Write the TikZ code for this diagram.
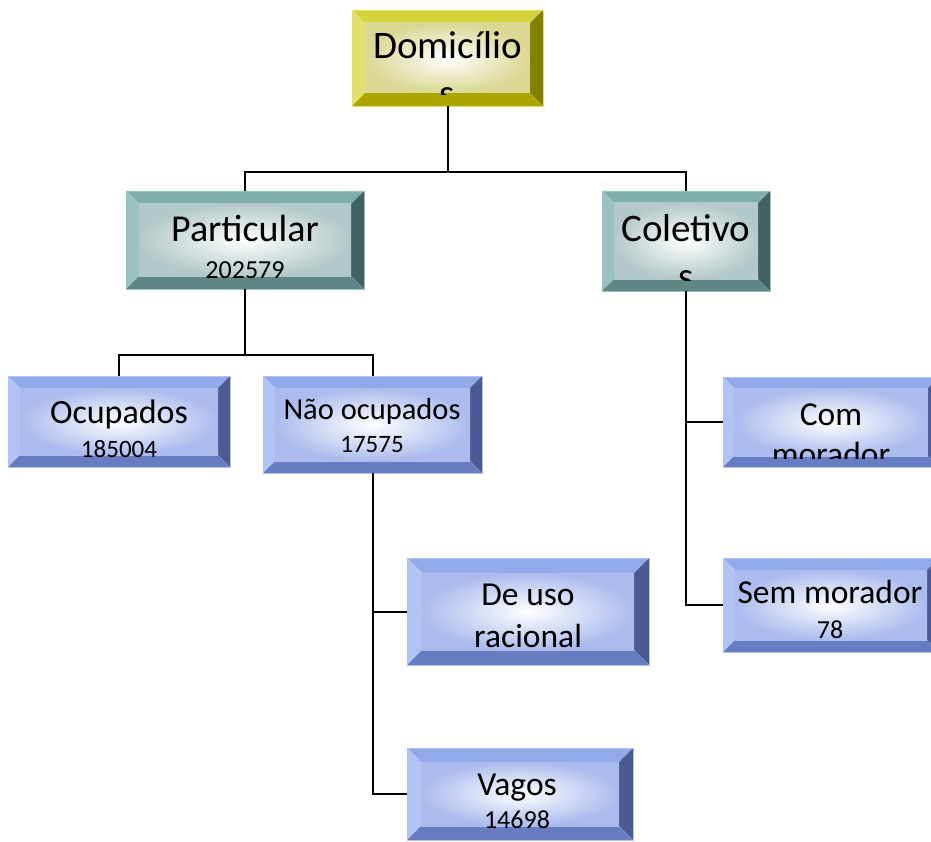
\documentclass[tikz,border=0pt]{standalone}
\usepackage{fontspec}
\setmainfont{Carlito}
\definecolor{yT}{RGB}{214,210,60}
\definecolor{yL}{RGB}{228,224,110}
\definecolor{yR}{RGB}{130,128,0}
\definecolor{yB}{RGB}{170,165,0}
\definecolor{yI}{RGB}{210,205,120}
\definecolor{tT}{RGB}{128,174,171}
\definecolor{tL}{RGB}{154,194,191}
\definecolor{tR}{RGB}{64,98,98}
\definecolor{tB}{RGB}{94,134,133}
\definecolor{tI}{RGB}{160,188,187}
\definecolor{bT}{RGB}{146,170,234}
\definecolor{bL}{RGB}{178,194,243}
\definecolor{bR}{RGB}{74,90,146}
\definecolor{bB}{RGB}{104,124,194}
\definecolor{bI}{RGB}{150,170,232}
\tikzset{
  txt/.style={anchor=base, inner sep=0pt, text=black},
  big/.style={font=\fontsize{39}{47}\selectfont},
  mid/.style={font=\fontsize{33.5}{41}\selectfont},
  num/.style={font=\fontsize{26}{31}\selectfont},
  link/.style={line width=2pt, black},
  boxnode/.style={inner sep=0pt, outer sep=0pt, draw=none}
}
% name, x1, y1, x2, y2, bevel, palette
\newcommand{\bevbox}[7]{%
  \fill[#7T] (#2,#3) -- (#4,#3) -- (#4-#6,#3+#6) -- (#2+#6,#3+#6) -- cycle;
  \fill[#7L] (#2,#3) -- (#2+#6,#3+#6) -- (#2+#6,#5-#6) -- (#2,#5) -- cycle;
  \fill[#7R] (#4,#3) -- (#4,#5) -- (#4-#6,#5-#6) -- (#4-#6,#3+#6) -- cycle;
  \fill[#7B] (#2,#5) -- (#4,#5) -- (#4-#6,#5-#6) -- (#2+#6,#5-#6) -- cycle;
  \shade[inner color=white, outer color=#7I!80] (#2+#6,#3+#6) rectangle (#4-#6,#5-#6);
  \draw[#7L, line width=0.8pt] (#2,#3) rectangle (#4,#5);
  \node[boxnode, minimum width={(#4-#2)*1pt}, minimum height={(#5-#3)*1pt}] (#1) at ({(#2+#4)/2},{(#3+#5)/2}) {};
}
\begin{document}
\begin{tikzpicture}[x=1pt,y=-1pt]
\useasboundingbox (0,0) rectangle (931,842);
\fill[white] (0,0) rectangle (931,842);
\clip (0,0) rectangle (931,842);

% boxes
\bevbox{dom}{352}{10}{543}{106}{13}{y}
\bevbox{part}{126}{191}{364}{289}{13}{t}
\bevbox{col}{602}{191}{770}{291}{12}{t}
\bevbox{ocu}{8}{376}{230}{467}{12}{b}
\bevbox{nao}{263}{376}{482}{473}{12}{b}
\bevbox{com}{723}{377}{939}{467}{11}{b}
\bevbox{uso}{407}{558}{649}{665}{15}{b}
\bevbox{sem}{723}{558}{939}{652}{12}{b}
\bevbox{vag}{407}{748}{633}{840}{14}{b}

% texts
\node[txt, big] (domt) at (447.5,59) {Domicílio};
\begin{scope}
  \clip (352,10) rectangle (543,95);
  \node[txt, big] (doms) at (447.5,107) {s};
\end{scope}
\node[txt, font=\fontsize{38}{46}\selectfont] (partt) at (245,242) {Particular};
\node[txt, num] (partn) at (245,278) {202579};
\node[txt, big] (colt) at (686,242) {Coletivo};
\begin{scope}
  \clip (602,191) rectangle (770,280);
  \node[txt, big] (cols) at (686,289) {s};
\end{scope}
\node[txt, font=\fontsize{34}{41}\selectfont] (ocut) at (119,423) {Ocupados};
\node[txt, font=\fontsize{25}{30}\selectfont] (ocun) at (119,457) {185004};
\node[txt, font=\fontsize{30.5}{37}\selectfont] (naot) at (372,419) {Não ocupados};
\node[txt, font=\fontsize{25}{30}\selectfont] (naon) at (372,452) {17575};
\node[txt, mid] (comt) at (831,425) {Com};
\begin{scope}
  \clip (723,377) rectangle (939,458);
  \node[txt, mid] (comm) at (831,465) {morador};
\end{scope}
\node[txt, mid] (usot) at (528,605) {De uso};
\node[txt, mid] (usor) at (528,647) {racional};
\node[txt, mid] (semt) at (830,603) {Sem morador};
\node[txt, num] (semn) at (830,638) {78};
\node[txt, mid] (vagt) at (517,795) {Vagos};
\node[txt, num] (vagn) at (517,828) {14698};

% connectors
\coordinate (j1) at (447.5,172);
\draw[link] (dom.south) -- (j1);
\draw[link] (j1) -| (part.north);
\draw[link] (j1) -| (col.north);
\coordinate (j2) at (245,355);
\draw[link] (part.south) -- (j2);
\draw[link] (j2) -| (ocu.north);
\draw[link] (j2) -| (nao.north);
\draw[link] (col.south) |- (com.west);
\draw[link] (col.south) |- (sem.west);
\draw[link] (nao.south) |- (uso.west);
\draw[link] (nao.south) |- (vag.west);
\end{tikzpicture}
\end{document}
